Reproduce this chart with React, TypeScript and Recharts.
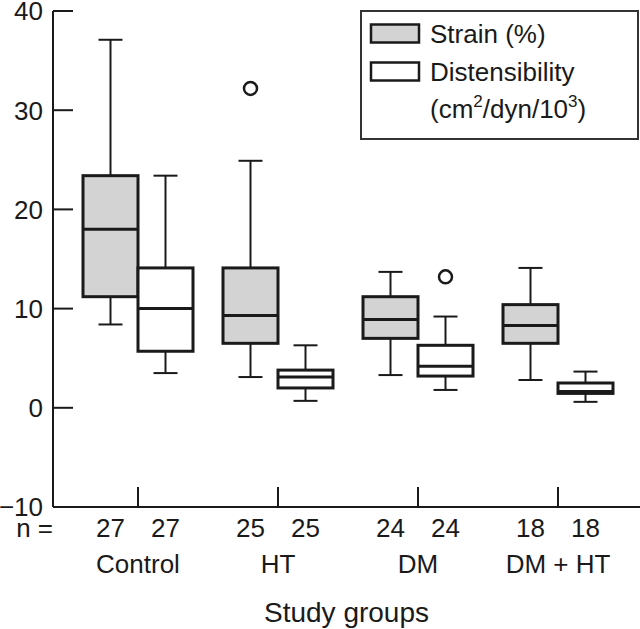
import React from "react";
import { Bar, ComposedChart, Legend, XAxis, YAxis } from "recharts";

// values
const groups = ["Control", "HT", "DM", "DM + HT"];

const strainMin = [8.4, 3.1, 3.3, 2.8];
const strainQ1 = [11.2, 6.5, 7.0, 6.5];
const strainMed = [18.0, 9.3, 8.9, 8.3];
const strainQ3 = [23.4, 14.1, 11.2, 10.4];
const strainMax = [37.1, 24.9, 13.7, 14.1];
const strainOut = [[], [32.2], [], []];

const distMin = [3.5, 0.7, 1.8, 0.6];
const distQ1 = [5.7, 2.0, 3.2, 1.45];
const distMed = [10.0, 3.1, 4.2, 1.65];
const distQ3 = [14.1, 3.8, 6.3, 2.5];
const distMax = [23.4, 6.3, 9.2, 3.65];
const distOut = [[], [], [13.2], []];

const nStrain = [27, 25, 24, 18];
const nDist = [27, 25, 24, 18];

const yTicks = [-10, 0, 10, 20, 30, 40];

const INK = "#1a1a1a";
const GREY = "#d3d3d3";
const FONT = "'Liberation Sans', Arial, sans-serif";

const data = groups.map((g, i) => ({
  group: g,
  strain: [strainMin[i], strainMax[i]],
  dist: [distMin[i], distMax[i]],
  s: { min: strainMin[i], q1: strainQ1[i], med: strainMed[i], q3: strainQ3[i], max: strainMax[i], out: strainOut[i] },
  d: { min: distMin[i], q1: distQ1[i], med: distMed[i], q3: distQ3[i], max: distMax[i], out: distOut[i] },
}));

// bar spans min..max whisker; the rest is placed with the same pixel scale
const makeBox = (key: "s" | "d", fill: string) => (props: any) => {
  const { x, y, width, height, payload } = props;
  const st = payload[key];
  const top = Math.min(y, y + height);
  const k = Math.abs(height) / (st.max - st.min);
  const py = (v: number) => top + (st.max - v) * k;
  const cx = x + width / 2;
  const cap = 12;
  return (
    <g>
      <line x1={cx} x2={cx} y1={py(st.max)} y2={py(st.q3)} stroke={INK} strokeWidth={2} />
      <line x1={cx} x2={cx} y1={py(st.q1)} y2={py(st.min)} stroke={INK} strokeWidth={2} />
      <line x1={cx - cap} x2={cx + cap} y1={py(st.max)} y2={py(st.max)} stroke={INK} strokeWidth={2} />
      <line x1={cx - cap} x2={cx + cap} y1={py(st.min)} y2={py(st.min)} stroke={INK} strokeWidth={2} />
      <rect
        x={x}
        y={py(st.q3)}
        width={width}
        height={py(st.q1) - py(st.q3)}
        fill={fill}
        stroke={INK}
        strokeWidth={3}
      />
      <line x1={x} x2={x + width} y1={py(st.med)} y2={py(st.med)} stroke={INK} strokeWidth={3} />
      {st.out.map((o: number, j: number) => (
        <circle key={j} cx={cx} cy={py(o)} r={6.5} fill="#fff" stroke={INK} strokeWidth={2.5} />
      ))}
    </g>
  );
};

function YTick(props: any) {
  const { x, y, payload } = props;
  const v = payload.value;
  return (
    <g>
      <line x1={x} x2={x + 20} y1={y} y2={y} stroke={INK} strokeWidth={2} />
      <text x={x - 10} y={y} dy="0.36em" textAnchor="end" fill={INK} fontSize={26} fontFamily={FONT}>
        {v < 0 ? `\u2212${-v}` : v}
      </text>
    </g>
  );
}

function GroupTick(props: any) {
  const { x, y, payload } = props;
  const i = groups.indexOf(payload.value);
  const txt = { fill: INK, fontSize: 26, fontFamily: FONT, textAnchor: "middle" as const };
  return (
    <g>
      <line x1={x} x2={x} y1={y - 20} y2={y} stroke={INK} strokeWidth={2} />
      {i === 0 && (
        <text x={x - 85} y={y + 30} {...txt} textAnchor="end">
          n =
        </text>
      )}
      <text x={x - 27.5} y={y + 30} {...txt}>
        {nStrain[i]}
      </text>
      <text x={x + 27.5} y={y + 30} {...txt}>
        {nDist[i]}
      </text>
      <text x={x} y={y + 66} {...txt}>
        {payload.value}
      </text>
    </g>
  );
}

function BoxLegend() {
  const t = { fill: INK, fontSize: 26, fontFamily: FONT };
  return (
    <svg width={279} height={130} style={{ display: "block" }}>
      <rect x={1} y={1} width={277} height={128} fill="#fff" stroke="#333" strokeWidth={2} />
      <rect x={11} y={14.5} width={48} height={18} fill={GREY} stroke={INK} strokeWidth={2.5} />
      <text x={70} y={33} {...t}>
        Strain (%)
      </text>
      <rect x={11} y={52.5} width={48} height={18} fill="#fff" stroke={INK} strokeWidth={2.5} />
      <text x={70} y={71} {...t}>
        Distensibility
      </text>
      <text x={70} y={108} {...t}>
        (cm
        <tspan dy={-11} fontSize={17}>2</tspan>
        <tspan dy={11}>/dyn/10</tspan>
        <tspan dy={-11} fontSize={17}>3</tspan>
        <tspan dy={11}>)</tspan>
      </text>
    </svg>
  );
}

export default function App() {
  return (
    <div style={{ position: "absolute", left: 0, top: 0, background: "#fff" }}>
      <ComposedChart
        width={640}
        height={629}
        data={data}
        margin={{ top: 11, right: 0, bottom: 0, left: 0 }}
        barGap={0}
      >
        <XAxis
          dataKey="group"
          height={122}
          padding={{ left: 15, right: 12 }}
          axisLine={{ stroke: INK, strokeWidth: 2 }}
          tickLine={false}
          tickSize={0}
          tickMargin={0}
          tick={<GroupTick />}
          interval={0}
          label={{
            value: "Study groups",
            position: "insideBottom",
            offset: 7,
            fill: INK,
            fontSize: 28,
            fontFamily: FONT,
          }}
        />
        <YAxis
          width={53}
          domain={[-10, 40]}
          ticks={yTicks}
          type="number"
          allowDataOverflow
          axisLine={{ stroke: INK, strokeWidth: 2 }}
          tickLine={false}
          tickSize={0}
          tickMargin={0}
          tick={<YTick />}
          interval={0}
        />
        <Legend
          layout="horizontal"
          verticalAlign="middle"
          wrapperStyle={{ left: 360, top: 10, width: 279, height: 130 }}
          content={() => <BoxLegend />}
        />
        <Bar
          dataKey="strain"
          name="Strain (%)"
          barSize={55}
          fill={GREY}
          shape={makeBox("s", GREY)}
          isAnimationActive={false}
        />
        <Bar
          dataKey="dist"
          name="Distensibility"
          barSize={55}
          fill="#fff"
          shape={makeBox("d", "#fff")}
          isAnimationActive={false}
        />
      </ComposedChart>
    </div>
  );
}
